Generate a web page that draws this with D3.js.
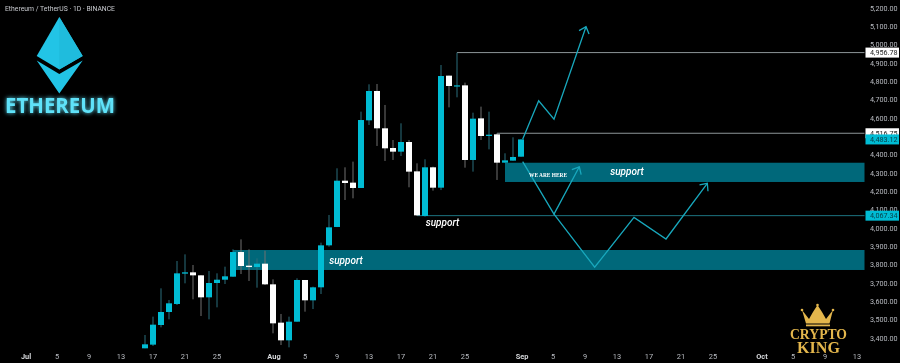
<!DOCTYPE html>
<html><head><meta charset="utf-8">
<script src="https://cdn.jsdelivr.net/npm/d3@7"></script>
<style>
html,body{margin:0;padding:0;background:#000;overflow:hidden}
svg{display:block;filter:blur(0.35px)}
text{font-family:Roboto,sans-serif}
</style></head><body>
<svg id="c" width="900" height="363"></svg>
<script>
const firstCandle = "2025-07-16";
const opens  = [3343.7,3363.7,3470.9,3541.8,3585.5,3751,3758.2,3741.8,3621.8,3700,3718,3734.5,3869,3794.5,3787,3805.4,3692.7,3483.7,3387.3,3489,3716.4,3605.5,3676.4,3905.4,4005.6,4258,4247.4,4218.3,4587.3,4747.3,4543.7,4436.4,4416.4,4469,4309,4065.6,4331,4220,4831,4774.6,4778,4371,4598,4501.9,4510.9,4356.4,4367.4,4389];
const closes = [3365.5,3472.7,3541.8,3589.1,3752.7,3758.2,3741.8,3621.8,3700,3718,3736.4,3869,3792.7,3787,3805.4,3692.7,3480,3387.3,3489,3716.4,3605.5,3676.4,3905.4,4003.6,4258,4245.5,4218.3,4589,4747.3,4543.7,4434.6,4416.4,4469,4307.4,4069,4331,4220,4829,4774.6,4778,4371,4596.4,4501.9,4509,4356.4,4369,4387.4,4483.12];
const highs  = [3416.4,3516.4,3670.9,3607.3,3820,3856.3,3798.2,3742,3765.4,3752.7,3789,3883.6,3938,3883.6,3834.5,3876.3,3720,3531,3516.4,3725.5,3716.4,3680,3920,4071,4325.6,4331,4362,4634.6,4783.7,4785.5,4671,4480,4571,4480,4352.8,4374.6,4334.6,4889,4831,4956.78,4792.8,4629,4661.9,4634.6,4516.75,4407.4,4494.6,4483.12];
const lows   = [3344,3356.4,3458.2,3501.8,3580,3698.2,3611,3520,3501.8,3567.3,3694.5,3734,3749,3711,3674.5,3689,3425.5,3361.8,3349,3489,3543.6,3558,3640,3898,4005,4152.8,4162,4218,4561.9,4447.4,4365.5,4371,4392.8,4222,4065.6,4062,4203.7,4207,4658,4712.8,4329,4307.4,4480,4429,4262,4356,4367,4389];

const yTicks = [5200,5100,5000,4900,4800,4700,4600,4400,4300,4200,4100,4000,3900,3800,3700,3600,3500,3400];
const monthTicks = [["2025-07-01","Jul"],["2025-08-01","Aug"],["2025-09-01","Sep"],["2025-10-01","Oct"]];
const dayTicks = ["2025-07-05","2025-07-09","2025-07-13","2025-07-17","2025-07-21","2025-07-25",
  "2025-08-05","2025-08-09","2025-08-13","2025-08-17","2025-08-21","2025-08-25",
  "2025-09-05","2025-09-09","2025-09-13","2025-09-17","2025-09-21","2025-09-25",
  "2025-10-05","2025-10-09","2025-10-13"];

const zoneSupportUpper = {from:"2025-08-30", hi:4356, lo:4251, label:"support"};
const zoneSupportLower = {from:"2025-07-27", hi:3880, lo:3771, label:"support"};

const levelHigh = {from:"2025-08-24", v:4956.78};
const levelMid  = {from:"2025-08-29", v:4516.75};
const levelLow  = {from:"2025-08-19", v:4067.34};
const lastPrice = 4483.12;

const pathUpDays   = ["2025-09-01T05:00","2025-09-03T05:00","2025-09-05T03:00","2025-09-09T03:00"];
const pathUpVals   = [4484,4694,4594,5098];
const pathMidDays  = ["2025-09-01T05:00","2025-09-05T03:00","2025-09-08T07:00"];
const pathMidVals  = [4362,4076,4334];
const pathLowDays  = ["2025-09-05T03:00","2025-09-10T05:00","2025-09-15T03:00","2025-09-19T03:00","2025-09-24T07:00"];
const pathLowVals  = [4076,3786,4058,3940,4244];

const W=900,H=363, plotR=864.5;
const parse = s => new Date(s.length>10 ? s+"Z" : s+"T00:00Z");
const x = d3.scaleUtc().domain([parse("2025-07-01"),parse("2025-10-01")]).range([25,761]);
const y = d3.scaleLinear().domain([3400,5200]).range([338,8]);
const svg = d3.select("#c");
const TEAL="#00bcd4", WHITE="#ffffff", ZONE="#00687a", AXIS="#b9bcc2";
svg.append("rect").attr("width",W).attr("height",H).attr("fill","#000");

const defs=svg.append("defs");
const glow=defs.append("filter").attr("id","glow").attr("x","-20%").attr("y","-60%").attr("width","140%").attr("height","220%");
glow.append("feGaussianBlur").attr("stdDeviation",2.2).attr("result","b");
const m=glow.append("feMerge"); m.append("feMergeNode").attr("in","b"); m.append("feMergeNode").attr("in","SourceGraphic");

// zones
[zoneSupportLower,zoneSupportUpper].forEach(z=>{
  svg.append("rect").attr("x",x(parse(z.from))).attr("width",plotR-x(parse(z.from)))
    .attr("y",y(z.hi)).attr("height",y(z.lo)-y(z.hi)).attr("fill",ZONE);
});

// levels
[[levelHigh,"#8d9598"],[levelMid,"#8d9598"],[levelLow,"#1d7480"]].forEach(([l,c])=>{
  svg.append("line").attr("x1",x(parse(l.from))).attr("x2",plotR).attr("y1",y(l.v)).attr("y2",y(l.v))
    .attr("stroke",c).attr("stroke-width",1);
});

// candles
const dayMs=864e5, start=parse(firstCandle);
const candles=opens.map((o,i)=>({d:new Date(+start+i*dayMs),o,c:closes[i],h:highs[i],l:lows[i]}));
const g=svg.append("g");
g.selectAll("line").data(candles).join("line")
  .attr("x1",d=>x(d.d)).attr("x2",d=>x(d.d)).attr("y1",d=>y(d.h)).attr("y2",d=>y(d.l))
  .attr("stroke",d=>d.c>=d.o?"#2b6f7c":"#707070").attr("stroke-width",1);
g.selectAll("rect").data(candles).join("rect")
  .attr("x",d=>x(d.d)-3).attr("width",6)
  .attr("y",d=>y(Math.max(d.o,d.c))).attr("height",d=>Math.max(1.2,Math.abs(y(d.o)-y(d.c))))
  .attr("fill",d=>d.c>=d.o?TEAL:WHITE);

// projected paths
const lineGen=d3.line().x(d=>x(d[0])).y(d=>y(d[1]));
function drawPath(days,vals){
  const pts=days.map((d,i)=>[parse(d),vals[i]]);
  svg.append("path").attr("d",lineGen(pts)).attr("fill","none").attr("stroke","#18a8bd").attr("stroke-width",1.3);
  const a=pts[pts.length-2],b=pts[pts.length-1];
  const ax=x(a[0]),ay=y(a[1]),bx=x(b[0]),by=y(b[1]);
  const ang=Math.atan2(by-ay,bx-ax),L=8;
  const p=s=>[bx-L*Math.cos(ang+s),by-L*Math.sin(ang+s)];
  const l=p(0.72),r=p(-0.72);
  svg.append("path").attr("d",`M${l}L${bx},${by}L${r}`).attr("fill","none").attr("stroke","#18a8bd").attr("stroke-width",1.3);
}
drawPath(pathUpDays,pathUpVals);
drawPath(pathMidDays,pathMidVals);
drawPath(pathLowDays,pathLowVals);

// annotations
const note=(px,py,t)=>svg.append("text").attr("x",px).attr("y",py).attr("text-anchor","middle")
  .attr("font-size",10).attr("font-style","italic").attr("font-weight",500).attr("fill","#fff").text(t);
note(627,174.5,zoneSupportUpper.label);
note(346,264,zoneSupportLower.label);
note(442.5,225.5,"support");
svg.append("text").attr("x",548).attr("y",177.3).attr("text-anchor","middle").attr("font-size",5.6)
  .attr("font-weight",700).attr("fill","#fff").attr("textLength",38).attr("lengthAdjust","spacingAndGlyphs")
  .style("font-family","'Liberation Serif',serif").text("WE ARE HERE");

// y axis
const yAxis=d3.axisRight(y).tickValues(yTicks).tickSize(0).tickFormat(d3.format(",.2f"));
const ya=svg.append("g").attr("transform","translate(868,0)").call(yAxis);
ya.select(".domain").remove();
ya.selectAll("text").attr("x",2).attr("fill",AXIS).attr("font-size",7.2).style("font-family","Roboto,sans-serif");

// price tags
function tag(v,bg,fg,txt){
  const h=10;
  svg.append("rect").attr("x",865.5).attr("y",y(v)-h/2).attr("width",33.5).attr("height",h).attr("fill",bg);
  svg.append("text").attr("x",870).attr("y",y(v)+2.6).attr("font-size",7.2).attr("fill",fg).text(txt);
}
tag(levelHigh.v,"#fff","#222",d3.format(",.2f")(levelHigh.v));
tag(levelMid.v,"#fff","#222",d3.format(",.2f")(levelMid.v));
tag(lastPrice,"#00bcd4","#07424c",d3.format(",.2f")(lastPrice));
tag(levelLow.v,"#00bcd4","#07424c",d3.format(",.2f")(levelLow.v));

// x axis
const xg=svg.append("g");
xg.selectAll("text.d").data(dayTicks).join("text").attr("class","d")
  .attr("x",d=>x(parse(d))).attr("y",358.7).attr("text-anchor","middle").attr("font-size",7.4).attr("fill",AXIS)
  .text(d=>+d.slice(8));
xg.selectAll("text.m").data(monthTicks).join("text").attr("class","m")
  .attr("x",d=>x(parse(d[0]))+1).attr("y",358.7).attr("text-anchor","middle").attr("font-size",7.4).attr("font-weight",700).attr("fill","#d5d7da")
  .text(d=>d[1]);

// title
svg.append("text").attr("x",5).attr("y",10.5).attr("font-size",7.2).attr("fill","#c9cbd0").attr("textLength",110).attr("lengthAdjust","spacingAndGlyphs").text("Ethereum / TetherUS · 1D · BINANCE");

// Ethereum logo
const logo=svg.append("g");
logo.append("path").attr("d","M59.3 17L36.7 56L59.3 69.5L82.7 56Z").attr("fill","#22c4e6");
logo.append("path").attr("d","M59.3 17L59.3 69.5L82.7 56Z").attr("fill","#1fbcdd");
logo.append("path").attr("d","M36.7 60.5L59.3 74L82.7 60.5L59.3 93.5Z").attr("fill","#22c4e6");
svg.append("text").attr("x",5).attr("y",113).attr("font-size",21).attr("font-weight",700)
  .attr("fill","#5fe2f9").attr("filter","url(#glow)").attr("textLength",110).attr("lengthAdjust","spacingAndGlyphs")
  .style("font-family","'Open Sans',sans-serif").text("ETHEREUM");

// Crypto King badge
const gold="#e3b64c";
svg.append("path").attr("d","M802 310L809 319L813 312L817.5 305L822 312L826 319L833 310L829.5 323.5L806 323.5Z").attr("fill",gold);
svg.append("rect").attr("x",806).attr("y",324.5).attr("width",24).attr("height",1.8).attr("fill",gold);
[[802,310],[817.5,305],[833,310]].forEach(c=>svg.append("circle").attr("cx",c[0]).attr("cy",c[1]).attr("r",1.3).attr("fill",gold));
svg.append("text").attr("x",818.5).attr("y",339).attr("text-anchor","middle").attr("font-size",15).attr("font-weight",700)
  .attr("fill",gold).attr("textLength",57).attr("lengthAdjust","spacingAndGlyphs").style("font-family","'Liberation Serif',serif").text("CRYPTO");
svg.append("text").attr("x",818.5).attr("y",352.5).attr("text-anchor","middle").attr("font-size",16.5).attr("font-weight",700)
  .attr("fill",gold).attr("textLength",43).attr("lengthAdjust","spacingAndGlyphs").style("font-family","'Liberation Serif',serif").text("KING");
</script>
</body></html>
